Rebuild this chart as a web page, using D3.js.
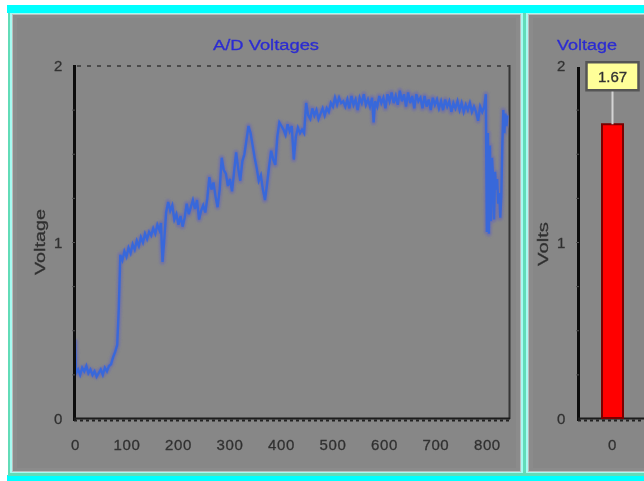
<!DOCTYPE html>
<html>
<head>
<meta charset="utf-8">
<script src="https://cdn.jsdelivr.net/npm/d3@7"></script>
<style>
  html, body { margin: 0; padding: 0; background: #fff; }
  svg { display: block; }
</style>
</head>
<body>
<div id="chart"></div>
<script>
/* ── Data ────────────────────────────────────────────────────────── */
// A/D samples: [sample index, volts]
const AD_READINGS = [
  [0,0.45],[2,0.26],[6,0.28],[10,0.25],[14,0.29],[18,0.27],[22,0.30],[26,0.26],[30,0.28],[34,0.25],
  [38,0.27],[42,0.24],[46,0.26],[50,0.28],[54,0.25],[58,0.29],[62,0.27],[66,0.30],[70,0.31],[74,0.35],
  [78,0.38],[82,0.42],[85,0.62],[88,0.93],[92,0.90],[96,0.95],[100,0.92],[104,0.97],[108,0.94],[112,0.99],
  [116,0.96],[120,1.01],[124,0.98],[128,1.03],[132,1.00],[136,1.05],[140,1.02],[144,1.06],[148,1.04],[152,1.08],
  [156,1.05],[160,1.10],[164,1.07],[167,1.11],[170,0.89],[173,1.00],[177,1.17],[181,1.23],[185,1.18],[189,1.21],
  [193,1.13],[197,1.16],[201,1.10],[205,1.15],[209,1.09],[213,1.14],[217,1.22],[221,1.16],[225,1.20],[229,1.24],
  [233,1.19],[237,1.24],[241,1.13],[245,1.18],[249,1.21],[253,1.17],[257,1.25],[261,1.37],[265,1.30],[269,1.34],
  [273,1.26],[277,1.20],[281,1.30],[285,1.48],[289,1.41],[293,1.39],[297,1.32],[301,1.36],[305,1.29],[309,1.40],
  [313,1.51],[317,1.42],[321,1.35],[325,1.46],[329,1.50],[333,1.58],[337,1.66],[341,1.62],[345,1.55],[349,1.48],
  [353,1.42],[357,1.35],[361,1.38],[365,1.30],[369,1.24],[373,1.33],[377,1.43],[381,1.52],[385,1.47],[389,1.44],
  [393,1.60],[397,1.68],[401,1.66],[405,1.64],[409,1.61],[413,1.67],[417,1.63],[421,1.66],[425,1.47],[429,1.60],
  [433,1.65],[437,1.62],[441,1.64],[445,1.62],[449,1.79],[453,1.72],[457,1.70],[461,1.76],[465,1.72],[469,1.75],
  [473,1.70],[477,1.73],[481,1.76],[485,1.72],[489,1.76],[493,1.74],[497,1.79],[501,1.77],[505,1.82],[509,1.78],
  [513,1.82],[517,1.79],[521,1.80],[525,1.77],[529,1.81],[533,1.76],[537,1.83],[541,1.78],[545,1.81],[549,1.75],
  [553,1.82],[557,1.79],[561,1.84],[565,1.78],[569,1.81],[573,1.77],[577,1.82],[580,1.68],[583,1.80],[587,1.77],
  [591,1.83],[595,1.79],[599,1.82],[603,1.76],[607,1.84],[611,1.80],[615,1.85],[619,1.79],[623,1.83],[627,1.78],
  [631,1.86],[635,1.80],[639,1.84],[643,1.77],[647,1.85],[651,1.79],[655,1.83],[659,1.76],[663,1.84],[667,1.80],
  [671,1.82],[675,1.76],[679,1.83],[683,1.77],[687,1.81],[691,1.75],[695,1.82],[699,1.78],[703,1.81],[707,1.76],
  [711,1.80],[715,1.75],[719,1.81],[723,1.77],[727,1.80],[731,1.74],[735,1.79],[739,1.76],[743,1.80],[747,1.75],
  [751,1.79],[755,1.74],[759,1.78],[763,1.75],[767,1.79],[771,1.74],[775,1.77],[779,1.74],[783,1.69],[787,1.77],
  [791,1.74],[795,1.77],[798,1.84],[800,1.06],[802,1.62],[804,1.05],[806,1.55],[808,1.12],[810,1.48],[812,1.38],
  [814,1.13],[816,1.40],[818,1.30],[820,1.36],[822,1.22],[824,1.28],[826,1.14],[828,1.26],[830,1.55],[832,1.75],
  [834,1.62],[836,1.73],[838,1.66],[840,1.72]
];
const X_TICKS = [0, 100, 200, 300, 400, 500, 600, 700, 800];
const Y_TICKS = [0, 1, 2];
const X_MAX = 843;

// Right panel: current voltage bar
const BAR_CATEGORIES = ["0"];
const BAR_VALUES = [1.67];

/* ── SVG & frame ─────────────────────────────────────────────────── */
const W = 644, H = 481;
const svg = d3.select("#chart").append("svg")
  .attr("width", W).attr("height", H)
  .attr("font-family", "'Liberation Sans', Arial, sans-serif");

const defs = svg.append("defs");
defs.append("filter").attr("id", "soft")
  .append("feGaussianBlur").attr("stdDeviation", 0.4);
defs.append("filter").attr("id", "halo")
  .append("feGaussianBlur").attr("stdDeviation", 0.8);
defs.append("clipPath").attr("id", "plotClip")
  .append("rect").attr("x", 76).attr("y", 60).attr("width", 433).attr("height", 359);

svg.append("rect").attr("width", W).attr("height", H).attr("fill", "#fff");
svg.append("rect").attr("x", 7).attr("y", 5).attr("width", W - 7).attr("height", 8).attr("fill", "#00ffff");
svg.append("rect").attr("x", 7).attr("y", 475).attr("width", W - 7).attr("height", 6).attr("fill", "#00ffff");

// panel outlines (mint outer, pale cyan inner, grey body)
function panel(x0, x1) {
  svg.append("rect").attr("x", x0).attr("y", 13).attr("width", x1 - x0).attr("height", 463).attr("fill", "#62dcb8");
  svg.append("rect").attr("x", x0 + 2).attr("y", 13).attr("width", x1 - x0 - 4).attr("height", 460).attr("fill", "#a6fbf2");
  svg.append("rect").attr("x", x0 + 4).attr("y", 14).attr("width", x1 - x0 - 8).attr("height", 458).attr("fill", "#bdbdbd");
  svg.append("rect").attr("x", x0 + 5).attr("y", 15).attr("width", x1 - x0 - 10).attr("height", 456).attr("fill", "#8b8b8b");
  svg.append("rect").attr("x", x0 + 9).attr("y", 18).attr("width", x1 - x0 - 18).attr("height", 450).attr("fill", "#878787");
}
panel(8, 525);
panel(524, 660);

/* ── Left panel: A/D Voltages line ───────────────────────────────── */
const x = d3.scaleLinear().domain([0, X_MAX]).range([75, 509]);
const y = d3.scaleLinear().domain([0, 2]).range([419, 66]);

const g1 = svg.append("g");

// top dotted border + right edge
g1.append("line")
  .attr("x1", 77).attr("x2", 509).attr("y1", y(2)).attr("y2", y(2))
  .attr("stroke", "#4a4a4a").attr("stroke-width", 2).attr("stroke-dasharray", "4,6");
g1.append("line")
  .attr("x1", 509.5).attr("x2", 509.5).attr("y1", y(2) - 1).attr("y2", y(0))
  .attr("stroke", "#353535").attr("stroke-width", 2);

// line: soft halo + core
const line = d3.line().x(d => x(d[0])).y(d => y(d[1]));
const lineG = g1.append("g").attr("clip-path", "url(#plotClip)");
lineG.append("path").datum(AD_READINGS)
  .attr("d", line).attr("fill", "none")
  .attr("stroke", "#7070a8").attr("stroke-width", 5.5).attr("stroke-linejoin", "round")
  .attr("stroke-opacity", 0.85)
  .attr("filter", "url(#halo)");
lineG.append("path").datum(AD_READINGS)
  .attr("d", line).attr("fill", "none")
  .attr("stroke", "#3868da").attr("stroke-width", 2.4).attr("stroke-linejoin", "miter");

// axes lines
g1.append("line").attr("x1", 74.5).attr("x2", 74.5).attr("y1", y(2) - 1).attr("y2", y(0) + 2)
  .attr("stroke", "#0d0d0d").attr("stroke-width", 3);
g1.selectAll(".yminor").data(d3.range(0.25, 2, 0.25)).enter().append("line")
  .attr("class", "yminor")
  .attr("x1", 72).attr("x2", 75).attr("y1", d => y(d)).attr("y2", d => y(d))
  .attr("stroke", "#555").attr("stroke-width", 1);
g1.append("line").attr("x1", 74).attr("x2", 510).attr("y1", 418.5).attr("y2", 418.5)
  .attr("stroke", "#1c1c1c").attr("stroke-width", 2);
g1.append("line").attr("x1", 74).attr("x2", 510).attr("y1", 420.5).attr("y2", 420.5)
  .attr("stroke", "#222").attr("stroke-width", 2).attr("stroke-dasharray", "3,3");

// tick labels via d3 axes
const tickStyle = sel => {
  sel.select(".domain").remove();
  sel.selectAll(".tick line").remove();
  sel.selectAll("text")
    .attr("fill", "#2e2e2e").attr("font-size", 15).attr("letter-spacing", 0.6)
    .attr("font-family", "'Liberation Sans', Arial, sans-serif")
    .attr("stroke", "#3a3a3a").attr("stroke-width", 0.35)
    .attr("filter", "url(#soft)");
};
g1.append("g").attr("transform", "translate(0,419)")
  .call(d3.axisBottom(x).tickValues(X_TICKS).tickSize(0).tickPadding(20).tickFormat(d3.format("d")))
  .call(tickStyle);
g1.append("g").attr("transform", "translate(74,0)")
  .call(d3.axisLeft(y).tickValues(Y_TICKS).tickSize(0).tickPadding(11).tickFormat(d3.format("d")))
  .call(tickStyle);

// title + axis name
g1.append("text")
  .attr("x", 266).attr("y", 50).attr("text-anchor", "middle")
  .attr("font-size", 14).attr("fill", "#2b2bd6")
  .attr("stroke", "#3030c8").attr("stroke-width", 0.3)
  .attr("textLength", 106).attr("lengthAdjust", "spacingAndGlyphs")
  .attr("filter", "url(#soft)")
  .text("A/D Voltages");
g1.append("text")
  .attr("transform", "translate(45,242) rotate(-90)")
  .attr("text-anchor", "middle").attr("font-size", 14).attr("fill", "#2e2e2e")
  .attr("stroke", "#3a3a3a").attr("stroke-width", 0.3)
  .attr("textLength", 66).attr("lengthAdjust", "spacingAndGlyphs")
  .attr("filter", "url(#soft)")
  .text("Voltage");

/* ── Right panel: Voltage bar ────────────────────────────────────── */
const xb = d3.scaleBand().domain(BAR_CATEGORIES).range([578, 647]).padding(0.5);
const g2 = svg.append("g");

g2.append("line").attr("x1", 578.5).attr("x2", 578.5).attr("y1", y(2) + 1).attr("y2", y(0) + 2)
  .attr("stroke", "#0d0d0d").attr("stroke-width", 3);
g2.selectAll(".yminor").data(d3.range(0.25, 2, 0.25)).enter().append("line")
  .attr("class", "yminor")
  .attr("x1", 576).attr("x2", 579).attr("y1", d => y(d)).attr("y2", d => y(d))
  .attr("stroke", "#555").attr("stroke-width", 1);
g2.append("line").attr("x1", 578).attr("x2", 644).attr("y1", 418.5).attr("y2", 418.5)
  .attr("stroke", "#1c1c1c").attr("stroke-width", 2);
g2.append("line").attr("x1", 578).attr("x2", 644).attr("y1", 420.5).attr("y2", 420.5)
  .attr("stroke", "#222").attr("stroke-width", 2).attr("stroke-dasharray", "3,3");

g2.append("g").attr("transform", "translate(578,0)")
  .call(d3.axisLeft(y).tickValues(Y_TICKS).tickSize(0).tickPadding(12).tickFormat(d3.format("d")))
  .call(tickStyle);
g2.append("g").attr("transform", "translate(0,419)")
  .call(d3.axisBottom(xb).tickSize(0).tickPadding(20))
  .call(tickStyle);

// bar
g2.selectAll(".bar").data(BAR_VALUES).enter().append("rect")
  .attr("class", "bar")
  .attr("x", (d, i) => xb(BAR_CATEGORIES[i]) + 1)
  .attr("y", d => y(d))
  .attr("width", xb.bandwidth() - 2)
  .attr("height", d => y(0) - y(d) - 1)
  .attr("fill", "#ff0000").attr("stroke", "#7a0000").attr("stroke-width", 2);

// value callout
BAR_VALUES.forEach((v, i) => {
  const cx = xb(BAR_CATEGORIES[i]) + xb.bandwidth() / 2;
  const top = y(v);
  const boxH = 28, boxW = 52, gap = 34;
  g2.append("line")
    .attr("x1", cx).attr("x2", cx).attr("y1", top - gap).attr("y2", top)
    .attr("stroke", "#d4d4d4").attr("stroke-width", 2);
  g2.append("rect")
    .attr("x", cx - boxW / 2).attr("y", top - gap - boxH)
    .attr("width", boxW).attr("height", boxH)
    .attr("fill", "#ffff99").attr("stroke", "#555").attr("stroke-width", 2.5);
  g2.append("text")
    .attr("x", cx).attr("y", top - gap - boxH / 2 + 5.5)
    .attr("text-anchor", "middle").attr("font-size", 15).attr("fill", "#2e2e2e")
    .attr("stroke", "#3a3a3a").attr("stroke-width", 0.35)
    .attr("filter", "url(#soft)")
    .text(v.toFixed(2));
});

g2.append("text")
  .attr("x", 587).attr("y", 50).attr("text-anchor", "middle")
  .attr("font-size", 14).attr("fill", "#2b2bd6")
  .attr("stroke", "#3030c8").attr("stroke-width", 0.3)
  .attr("textLength", 60).attr("lengthAdjust", "spacingAndGlyphs")
  .attr("filter", "url(#soft)")
  .text("Voltage");
g2.append("text")
  .attr("transform", "translate(548,244) rotate(-90)")
  .attr("text-anchor", "middle").attr("font-size", 14).attr("fill", "#2e2e2e")
  .attr("stroke", "#3a3a3a").attr("stroke-width", 0.3)
  .attr("textLength", 44).attr("lengthAdjust", "spacingAndGlyphs")
  .attr("filter", "url(#soft)")
  .text("Volts");
</script>
</body>
</html>
